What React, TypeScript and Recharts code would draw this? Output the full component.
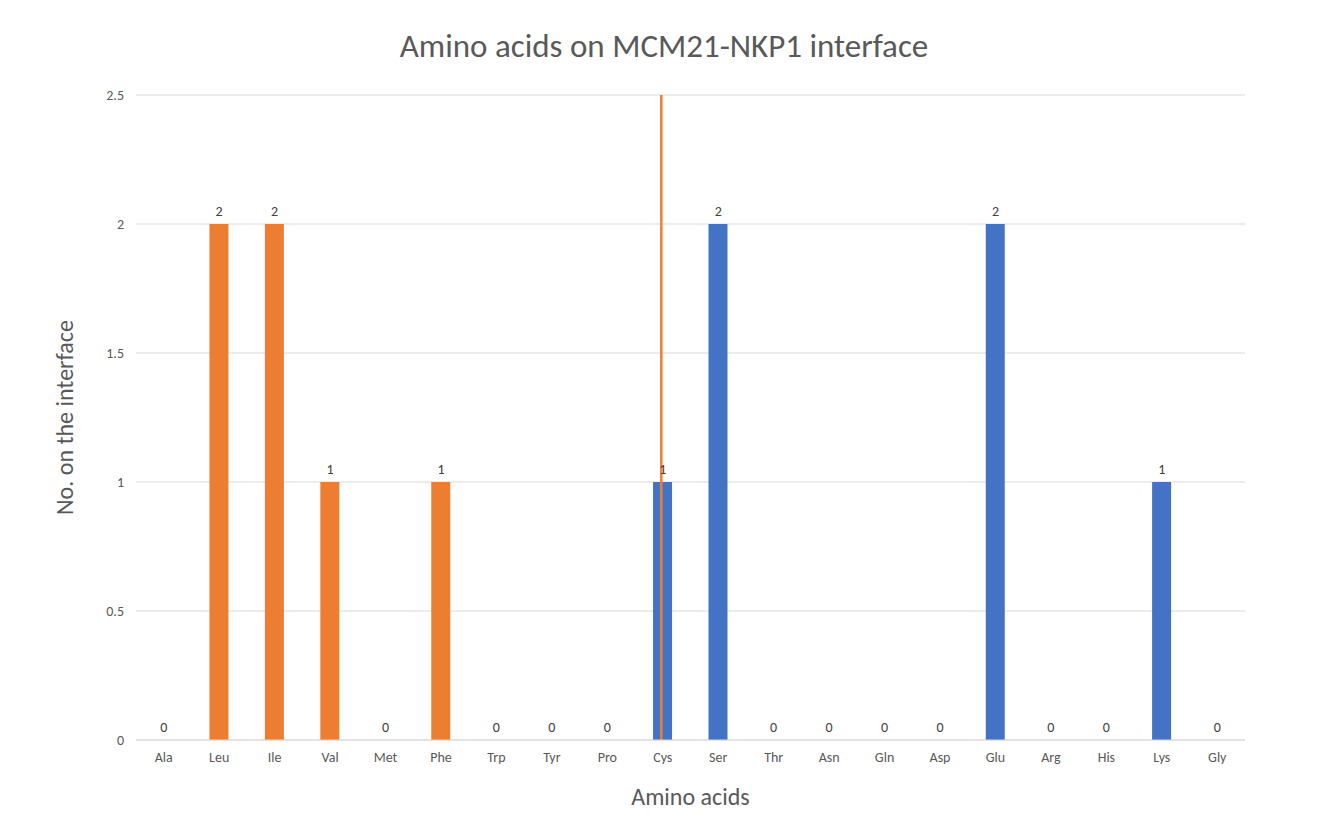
import { Bar, CartesianGrid, Cell, ComposedChart, LabelList, Line, ReferenceLine, XAxis, YAxis } from "recharts";

const ACIDS = ["Ala", "Leu", "Ile", "Val", "Met", "Phe", "Trp", "Tyr", "Pro", "Cys", "Ser", "Thr", "Asn", "Gln", "Asp", "Glu", "Arg", "His", "Lys", "Gly"];
const COUNTS = [0, 2, 2, 1, 0, 1, 0, 0, 0, 1, 2, 0, 0, 0, 0, 2, 0, 0, 1, 0];
const Y_TICKS = [0, 0.5, 1, 1.5, 2, 2.5];

const ORANGE = "#ED7D31";
const BLUE = "#4472C4";
// first nine are hydrophobic, split from the rest by the vertical line
const SPLIT = 9;

const data = ACIDS.map((name, i) => ({ name, value: COUNTS[i] }));

const font = "Calibri, Carlito, 'Open Sans', sans-serif";
const tick = { fill: "#595959", fontSize: 14, fontFamily: font };

export default function App() {
  return (
    <div style={{ position: "absolute", left: 0, top: 0, width: 1328, height: 837, background: "#fff", fontFamily: font }}>
      <div style={{ position: "absolute", top: 26, width: "100%", textAlign: "center", fontSize: 33, color: "#595959" }}>
        Amino acids on MCM21-NKP1 interface
      </div>
      <ComposedChart width={1328} height={837} data={data} margin={{ top: 95, right: 83, bottom: 0, left: 0 }}>
        <CartesianGrid stroke="#D9D9D9" vertical={false} />
        <XAxis
          dataKey="name"
          tick={tick}
          tickLine={false}
          axisLine={{ stroke: "#D9D9D9" }}
          height={97}
          interval={0}
          tickMargin={6}
          label={{ value: "Amino acids", position: "insideBottom", offset: 32, fill: "#595959", fontSize: 24, fontFamily: font }}
        />
        <XAxis xAxisId="n" type="number" domain={[0, ACIDS.length]} height={0} hide />
        <YAxis
          domain={[0, 2.5]}
          ticks={Y_TICKS}
          tick={tick}
          tickLine={false}
          axisLine={false}
          width={136}
          tickMargin={6}
          label={{ value: "No. on the interface", angle: -90, position: "insideLeft", offset: 64, fill: "#595959", fontSize: 24, fontFamily: font, style: { textAnchor: "middle" } }}
        />
        <ReferenceLine xAxisId="n" x={SPLIT} stroke={ORANGE} strokeWidth={2.5} />
        <Bar dataKey="value" barSize={19} isAnimationActive={false}>
          {data.map((d, i) => (
            <Cell key={d.name} fill={i < SPLIT ? ORANGE : BLUE} />
          ))}
        </Bar>
        {/* invisible carrier for the value labels, so zeros get one too */}
        <Line dataKey="value" stroke="none" dot={false} activeDot={false} isAnimationActive={false}>
          <LabelList dataKey="value" position="top" offset={8} fill="#404040" fontSize={14} fontFamily={font} />
        </Line>
      </ComposedChart>
    </div>
  );
}
